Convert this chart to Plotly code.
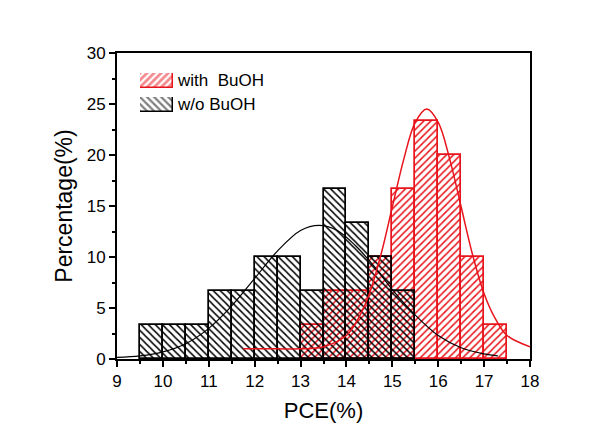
import plotly.graph_objects as go

# ---- data ----
with_centers = [13.25, 13.75, 14.25, 14.75, 15.25, 15.75, 16.25, 16.75, 17.25]
with_buoh = [3.33, 6.67, 6.67, 10.0, 16.67, 23.33, 20.0, 10.0, 3.33]
wo_centers = [9.75, 10.25, 10.75, 11.25, 11.75, 12.25, 12.75, 13.25, 13.75, 14.25, 14.75, 15.25]
wo_buoh = [3.33, 3.33, 3.33, 6.67, 6.67, 10.0, 10.0, 6.67, 16.67, 13.33, 10.0, 6.67]

wo_fit_x = [9.0, 9.5, 10.0, 10.5, 11.0, 11.5, 12.0, 12.5, 13.0, 13.4, 13.8, 14.2, 14.6, 15.0, 15.5, 16.0, 16.5, 17.0, 17.3]
wo_fit_y = [0.15, 0.3, 0.7, 1.5, 3.0, 5.2, 7.9, 10.6, 12.6, 13.1, 12.6, 11.1, 9.1, 6.8, 4.3, 2.3, 1.1, 0.5, 0.3]

with_fit_x = [11.75, 12.5, 13.0, 13.5, 14.0, 14.25, 14.5, 14.75, 15.0, 15.25, 15.5, 15.75, 16.0, 16.25, 16.5, 16.75, 17.0, 17.25, 17.5, 18.0]
with_fit_y = [1.0, 1.0, 1.0, 1.2, 2.3, 3.9, 6.4, 10.2, 14.9, 19.6, 23.2, 24.5, 23.2, 19.6, 14.9, 10.2, 6.4, 3.9, 2.3, 1.2]

x_ticks = list(range(9, 19))
y_ticks = [0, 5, 10, 15, 20, 25, 30]
legend_labels = ["with\u00a0 BuOH", "w/o BuOH"]

RED = "#e8141b"
BLACK = "#000000"
FONT = "Liberation Sans, Arial, sans-serif"

fig = go.Figure()

fig.add_trace(go.Bar(
    x=with_centers, y=with_buoh, width=0.5, name=legend_labels[0],
    marker=dict(color="rgba(0,0,0,0)", line=dict(color=RED, width=1.7),
                pattern=dict(shape="/", fgcolor=RED, bgcolor="rgba(0,0,0,0)",
                             size=5, solidity=0.3, fillmode="replace")),
    showlegend=False,
))
fig.add_trace(go.Bar(
    x=wo_centers, y=wo_buoh, width=0.5, name=legend_labels[1],
    marker=dict(color="rgba(0,0,0,0)", line=dict(color=BLACK, width=1.7),
                pattern=dict(shape="\\", fgcolor=BLACK, bgcolor="rgba(0,0,0,0)",
                             size=5, solidity=0.3, fillmode="replace")),
    showlegend=False,
))
fig.add_trace(go.Scatter(x=wo_fit_x, y=wo_fit_y, mode="lines", line=dict(color=BLACK, width=1.2, shape="spline"),
                         showlegend=False))
fig.add_trace(go.Scatter(x=with_fit_x, y=with_fit_y, mode="lines", line=dict(color=RED, width=1.5, shape="spline"),
                         showlegend=False))

# ---- legend swatches (patterned boxes) ----
fig.add_trace(go.Bar(x=[0.5], y=[1], width=1, xaxis="x2", yaxis="y2", showlegend=False, cliponaxis=False,
                     marker=dict(color="white", line=dict(color=RED, width=1.5),
                                 pattern=dict(shape="/", fgcolor=RED, bgcolor="white", size=5, solidity=0.55))))
fig.add_trace(go.Bar(x=[0.5], y=[1], width=1, xaxis="x2", yaxis="y3", showlegend=False, cliponaxis=False,
                     marker=dict(color="white", line=dict(color=BLACK, width=1.5),
                                 pattern=dict(shape="\\", fgcolor=BLACK, bgcolor="white", size=5, solidity=0.45))))

axis_common = dict(showline=True, linecolor="black", linewidth=2, mirror=True,
                   ticks="outside", tickcolor="black", tickwidth=1.5, ticklen=6,
                   showgrid=False, zeroline=False, automargin=False,
                   tickfont=dict(family=FONT, size=17, color="black"))

# page body has an 8px margin, so the figure is 8px smaller and margins are shifted
fig.update_layout(
    width=594, height=415,
    margin=dict(l=109, r=72, t=45, b=64, autoexpand=False),
    paper_bgcolor="white", plot_bgcolor="white",
    barmode="overlay", bargap=0,
    font=dict(family=FONT, color="black"),
    xaxis=dict(range=[9, 18], tickvals=x_ticks,
               minor=dict(dtick=0.5, tick0=9, ticks="outside", ticklen=3, tickcolor="black", tickwidth=1.5),
               title=dict(text="PCE(%)", font=dict(family=FONT, size=22), standoff=12),
               **axis_common),
    yaxis=dict(range=[0, 30], tickvals=y_ticks,
               minor=dict(dtick=2.5, tick0=0, ticks="outside", ticklen=3, tickcolor="black", tickwidth=1.5),
               title=dict(text="Percentage(%)", font=dict(family=FONT, size=23), standoff=8),
               **axis_common),
    xaxis2=dict(domain=[0.0557, 0.1356], range=[0, 1], visible=False, anchor="y2", fixedrange=True),
    yaxis2=dict(domain=[0.8856, 0.9346], range=[0, 1], visible=False, anchor="x2", fixedrange=True),
    yaxis3=dict(domain=[0.8072, 0.8562], range=[0, 1], visible=False, anchor="x2", fixedrange=True),
    annotations=[
        dict(text=legend_labels[0], xref="paper", yref="paper", x=0.141, y=0.910, xanchor="left", yanchor="middle",
             showarrow=False, font=dict(family=FONT, size=17, color="black")),
        dict(text=legend_labels[1], xref="paper", yref="paper", x=0.141, y=0.8317, xanchor="left", yanchor="middle",
             showarrow=False, font=dict(family=FONT, size=17, color="black")),
    ],
)

fig.write_html("out.html")
